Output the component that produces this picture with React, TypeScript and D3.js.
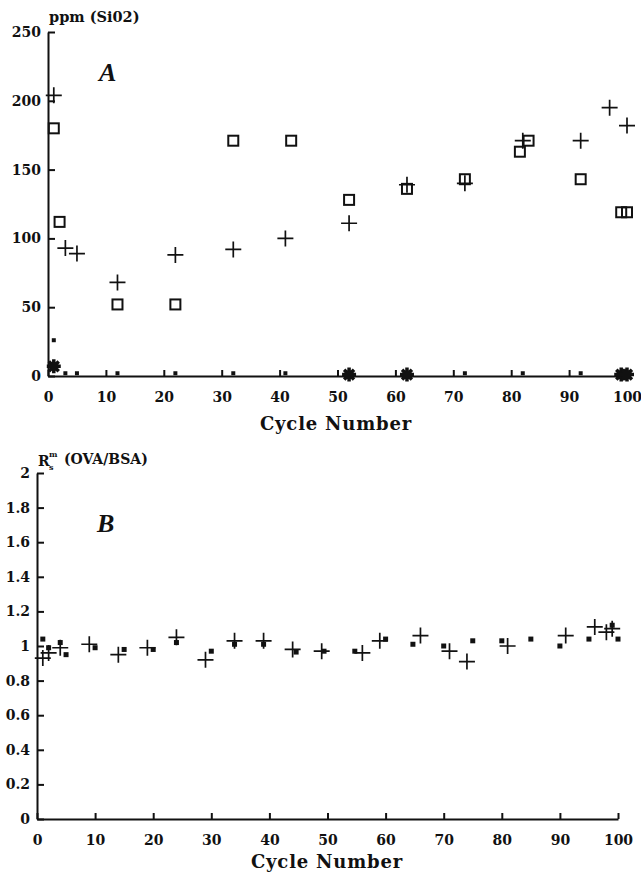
import React, { useEffect, useRef } from "react"
import * as d3 from "d3"

// panel A: ppm SiO2 vs cycle number
const plusA: [number, number][] = [
  [1, 204], [3, 93], [5, 89], [12, 68], [22, 88], [32, 92], [41, 100], [52, 111],
  [62, 139], [72, 140], [82, 171], [92, 171], [97, 195], [100, 182],
]
const squareA: [number, number][] = [
  [1, 180], [2, 112], [12, 52], [22, 52], [32, 171], [42, 171], [52, 128], [62, 136],
  [72, 143], [81.5, 163], [83, 171], [92, 143], [99, 119], [100, 119],
]
const dotA: [number, number][] = [
  [1, 26], [3, 2], [5, 2], [12, 2], [22, 2], [32, 2], [41, 2], [72, 2], [82, 2], [92, 2],
]
const starA: [number, number][] = [[1, 7], [52, 1], [62, 1], [99, 1], [100, 1]]

// panel B: R (OVA/BSA) vs cycle number
const plusB: [number, number][] = [
  [1, 0.93], [2, 0.96], [4, 0.99], [9, 1.01], [14, 0.95], [19, 0.99], [24, 1.05], [29, 0.92],
  [34, 1.03], [39, 1.03], [44, 0.98], [49, 0.97], [56, 0.96], [59, 1.03], [66, 1.06],
  [71, 0.97], [74, 0.91], [81, 1.0], [91, 1.06], [96, 1.11], [98, 1.08], [99, 1.1],
]
const squareB: [number, number][] = [
  [1, 1.04], [2, 0.99], [4, 1.02], [5, 0.95], [10, 0.99], [15, 0.98], [20, 0.98], [24, 1.02],
  [30, 0.97], [34, 1.01], [39, 1.01], [44.6, 0.965], [49.4, 0.97], [54.7, 0.97], [60, 1.04],
  [64.7, 1.01], [70, 1.0], [75, 1.03], [80, 1.03], [85, 1.04], [90, 1.0], [95, 1.04],
  [99, 1.12], [100, 1.04],
]

const xTicks = d3.range(0, 101, 10)
const yTicksA = [0, 50, 100, 150, 200, 250]
const yTicksB = [0, 0.2, 0.4, 0.6, 0.8, 1, 1.2, 1.4, 1.6, 1.8, 2]

const FONT = "'DejaVu Serif', serif"
const plusPath = (s: number) => `M${-s},0H${s}M0,${-s}V${s}`
const starPath = (s: number) => {
  let p = ""
  for (let i = 0; i < 4; i++) {
    const a = (i * Math.PI) / 4
    p += `M${-s * Math.cos(a)},${-s * Math.sin(a)}L${s * Math.cos(a)},${s * Math.sin(a)}`
  }
  return p
}

export default function App() {
  const ref = useRef<SVGGElement>(null)

  useEffect(() => {
    const svg = d3.select(ref.current)
    svg.selectAll("*").remove()

    function panel(
      x0: number, x1: number, y0: number, y1: number, ymax: number, yTicks: number[],
      fmt: (d: number) => string
    ) {
      const x = d3.scaleLinear().domain([0, 100]).range([x0, x1])
      const y = d3.scaleLinear().domain([0, ymax]).range([y0, y1])
      const g = svg.append("g")
      const ax = g.append("g").attr("transform", `translate(0,${y0})`)
        .call(d3.axisBottom(x).tickValues(xTicks).tickSizeInner(-6).tickSizeOuter(0).tickPadding(16))
      const ay = g.append("g").attr("transform", `translate(${x0},0)`)
        .call(d3.axisLeft(y).tickValues(yTicks).tickFormat(fmt as any).tickSizeInner(-7).tickSizeOuter(0).tickPadding(7))
      for (const a of [ax, ay]) {
        a.selectAll("path,line").attr("stroke", "#111").attr("stroke-width", 2)
        a.selectAll("text").attr("font-family", FONT).attr("font-weight", "bold")
          .attr("font-size", 14).attr("fill", "#111")
      }
      return { x, y, g }
    }

    // panel A
    const A = panel(48, 627, 376, 32, 250, yTicksA, d => String(d))
    A.g.selectAll(".sq").data(squareA).join("rect")
      .attr("x", d => A.x(d[0]) - 5).attr("y", d => A.y(d[1]) - 5)
      .attr("width", 10).attr("height", 10)
      .attr("fill", "none").attr("stroke", "#111").attr("stroke-width", 2)
    A.g.selectAll(".pl").data(plusA).join("path")
      .attr("d", plusPath(8)).attr("transform", d => `translate(${A.x(d[0])},${A.y(d[1])})`)
      .attr("fill", "none").attr("stroke", "#111").attr("stroke-width", 1.7)
    A.g.selectAll(".dt").data(dotA).join("rect")
      .attr("x", d => A.x(d[0]) - 2).attr("y", d => A.y(d[1]) - 2)
      .attr("width", 4).attr("height", 4).attr("fill", "#111")
    A.g.selectAll(".st").data(starA).join("path")
      .attr("d", starPath(7)).attr("transform", d => `translate(${A.x(d[0])},${A.y(d[1])})`)
      .attr("fill", "none").attr("stroke", "#111").attr("stroke-width", 3.5)

    // panel B
    const B = panel(37, 618, 819, 473, 2, yTicksB, d => String(+d.toFixed(1)))
    B.g.selectAll(".sq").data(squareB).join("rect")
      .attr("x", d => B.x(d[0]) - 2.5).attr("y", d => B.y(d[1]) - 2.5)
      .attr("width", 5).attr("height", 5).attr("fill", "#111")
    B.g.selectAll(".pl").data(plusB).join("path")
      .attr("d", plusPath(8)).attr("transform", d => `translate(${B.x(d[0])},${B.y(d[1])})`)
      .attr("fill", "none").attr("stroke", "#111").attr("stroke-width", 1.7)
  }, [])

  const bold = { fontFamily: FONT, fontWeight: "bold" as const, fill: "#111" }
  const letter = { fontFamily: "'Liberation Serif', serif", fontStyle: "italic" as const, fontWeight: "bold" as const, fill: "#111" }
  return (
    <svg width={641} height={872}
      style={{ position: "absolute", left: 0, top: 0, background: "#fff" }}>
      <g ref={ref} />
      <g>
        <text x={49} y={22} fontSize={14.5} {...bold}>ppm (Si02)</text>
        <text x={99} y={81} fontSize={26} {...letter}>A</text>
        <text x={336} y={430} fontSize={18} letterSpacing={0.8} textAnchor="middle" {...bold}>Cycle Number</text>
        <text x={38} y={466} fontSize={14} {...bold}>R</text>
        <text x={49} y={470} fontSize={8} {...bold}>s</text>
        <text x={49} y={457} fontSize={8} {...bold}>m</text>
        <text x={64} y={464} fontSize={14} {...bold}>(OVA/BSA)</text>
        <text x={97} y={532} fontSize={26} {...letter}>B</text>
        <text x={327} y={868} fontSize={18} letterSpacing={0.8} textAnchor="middle" {...bold}>Cycle Number</text>
      </g>
    </svg>
  )
}
